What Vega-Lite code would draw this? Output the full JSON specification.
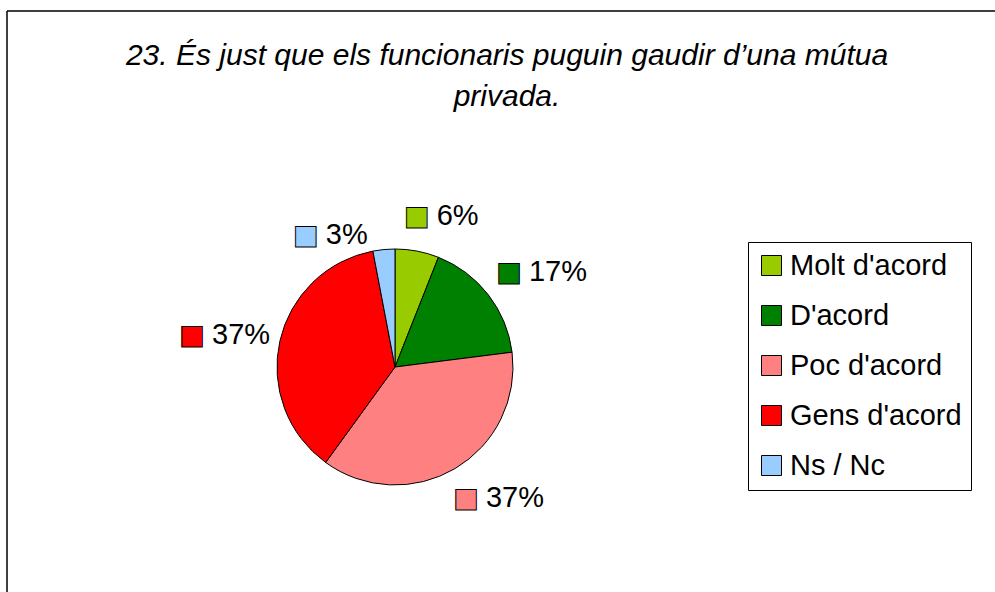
{
  "$schema": "https://vega.github.io/schema/vega-lite/v6.json",
  "width": 988,
  "height": 581,
  "autosize": {"type": "none"},
  "padding": {"left": 7, "top": 11, "right": 0, "bottom": 0},
  "background": "white",
  "config": {
    "font": "Liberation Sans",
    "view": {"stroke": "black", "strokeWidth": 1.5, "strokeDash": [988, 1569, 581, 0]}
  },
  "title": {
    "text": ["23. És just que els funcionaris puguin gaudir d’una mútua", "privada."],
    "fontSize": 30,
    "fontStyle": "italic",
    "fontWeight": "normal",
    "font": "Liberation Sans",
    "color": "black",
    "anchor": "middle",
    "frame": "group",
    "baseline": "alphabetic",
    "offset": -125,
    "lineHeight": 41,
    "dx": 6
  },
  "data": {
    "values": [
      {"cat": "Molt d'acord", "value": 0.06},
      {"cat": "D'acord", "value": 0.17},
      {"cat": "Poc d'acord", "value": 0.37},
      {"cat": "Gens d'acord", "value": 0.37},
      {"cat": "Ns / Nc", "value": 0.03}
    ]
  },
  "transform": [{"window": [{"op": "row_number", "as": "i"}]}],
  "encoding": {
    "theta": {"field": "value", "type": "quantitative", "stack": true},
    "order": {"field": "i", "type": "quantitative"},
    "x": {"value": 388},
    "y": {"value": 356}
  },
  "layer": [
    {
      "mark": {"type": "arc", "outerRadius": 118, "stroke": "black", "strokeWidth": 1},
      "encoding": {
        "color": {
          "field": "cat",
          "type": "nominal",
          "scale": {
            "domain": ["Molt d'acord", "D'acord", "Poc d'acord", "Gens d'acord", "Ns / Nc"],
            "range": ["#99CC00", "#008000", "#FF8080", "#FF0000", "#99CCFF"]
          },
          "legend": {
            "title": null,
            "orient": "none",
            "legendX": 741,
            "legendY": 231,
            "symbolType": "square",
            "symbolSize": 400,
            "symbolStrokeColor": "black",
            "symbolStrokeWidth": 1,
            "symbolOpacity": 1,
            "labelFontSize": 29,
            "labelFont": "Liberation Sans",
            "labelColor": "black",
            "labelOffset": 4,
            "labelLimit": 400,
            "rowPadding": 20,
            "padding": 9,
            "strokeColor": "black",
            "fillColor": "white"
          }
        }
      }
    },
    {
      "mark": {"type": "text", "text": "■", "radius": 153, "dx": -7, "dy": 0, "align": "center", "baseline": "middle", "font": "DejaVu Sans", "fontSize": 27, "stroke": "black", "strokeWidth": 1},
      "encoding": {
        "color": {"field": "cat", "type": "nominal"},
        "opacity": {"condition": {"test": "datum.i >= 4", "value": 0}, "value": 1}
      }
    },
    {
      "mark": {"type": "text", "radius": 153, "dx": 13, "dy": -1, "align": "left", "baseline": "middle", "fontSize": 29, "color": "black"},
      "encoding": {
        "detail": {"field": "cat", "type": "nominal"},
        "text": {"field": "value", "type": "quantitative", "format": ".0%"},
        "opacity": {"condition": {"test": "datum.i >= 4", "value": 0}, "value": 1}
      }
    },
    {
      "mark": {"type": "text", "text": "■", "radius": 129, "dx": -77, "dy": -3, "align": "center", "baseline": "middle", "font": "DejaVu Sans", "fontSize": 27, "stroke": "black", "strokeWidth": 1},
      "encoding": {
        "color": {"field": "cat", "type": "nominal"},
        "opacity": {"condition": {"test": "datum.i <= 3", "value": 0}, "value": 1}
      }
    },
    {
      "mark": {"type": "text", "radius": 129, "dx": -57, "dy": -4, "align": "left", "baseline": "middle", "fontSize": 29, "color": "black"},
      "encoding": {
        "detail": {"field": "cat", "type": "nominal"},
        "text": {"field": "value", "type": "quantitative", "format": ".0%"},
        "opacity": {"condition": {"test": "datum.i <= 3", "value": 0}, "value": 1}
      }
    }
  ]
}
